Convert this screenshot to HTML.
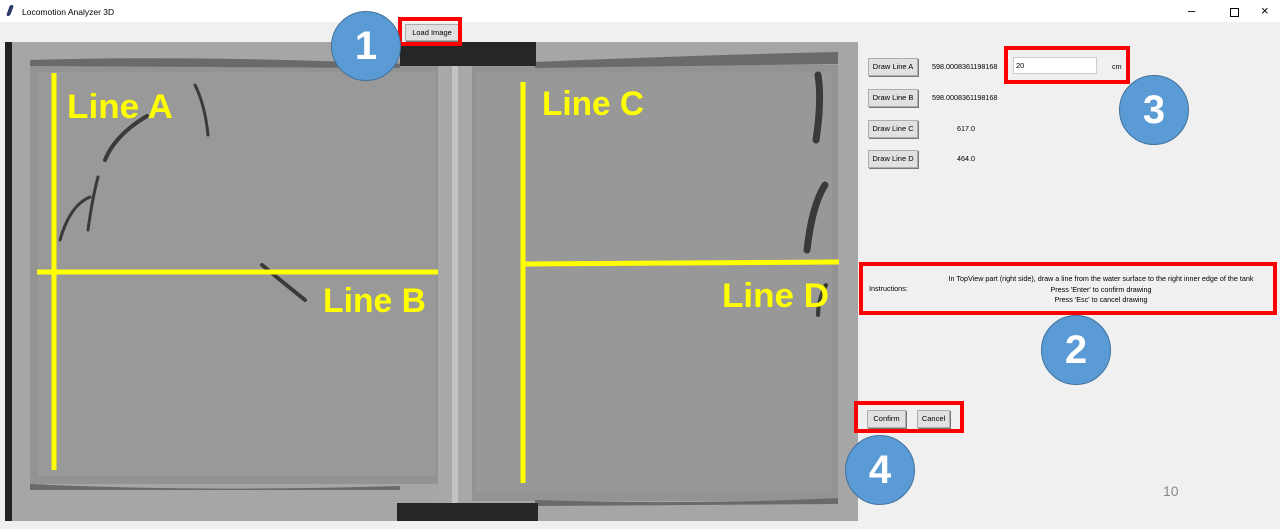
<!DOCTYPE html>
<html><head><meta charset="utf-8"><style>
body{margin:0;width:1280px;height:529px;overflow:hidden;background:#f0f0f0;font-family:"Liberation Sans",sans-serif;position:relative}
.abs{position:absolute}
.btn{position:absolute;background:#e1e1e1;border:1px solid #adadad;box-shadow:1px 1px 0 #777;font-size:7.5px;text-align:center;line-height:15px;color:#000;white-space:nowrap}
.lbl{position:absolute;font-size:7.2px;color:#000;white-space:nowrap}
.red{position:absolute;border:4px solid #f00;box-sizing:border-box}
.circ{position:absolute;width:70px;height:70px;border-radius:50%;background:#5b9bd5;border:1px solid #41719c;box-sizing:border-box;color:#fff;font-weight:bold;font-size:40px;text-align:center;line-height:68px}
</style></head><body>
<div class="abs" style="left:0;top:0;width:1280px;height:22px;background:#fff"></div>
<div class="abs" style="left:8px;top:5px;width:4px;height:11px;background:#2a3a6a;transform:skewX(-20deg);border-radius:2px"></div>
<div class="lbl" style="left:22px;top:7px;font-size:8.5px">Locomotion Analyzer 3D</div>
<div class="lbl" style="left:1188px;top:3px;font-size:13px">&#8211;</div>
<div class="abs" style="left:1230px;top:8px;width:7px;height:7px;border:1px solid #000"></div>
<div class="lbl" style="left:1261px;top:3px;font-size:13px">&#215;</div>

<svg class="abs" style="left:5px;top:42px" width="853" height="479" viewBox="5 42 853 479">
<rect x="5" y="42" width="853" height="479" fill="#a6a6a6"/>
<rect x="5" y="42" width="7" height="479" fill="#222"/>
<rect x="30" y="62" width="410" height="422" fill="#939393"/>
<rect x="38" y="72" width="398" height="404" fill="#999"/>
<path d="M30 60 Q200 55 400 64 L400 68 L30 66Z" fill="#6a6a6a"/>
<path d="M30 484 Q200 492 400 486 L400 490 L30 490Z" fill="#6a6a6a"/>
<rect x="470" y="65" width="368" height="436" fill="#939393"/>
<rect x="476" y="72" width="356" height="420" fill="#989898"/>
<path d="M535 62 Q700 55 838 52 L838 64 L535 68Z" fill="#6a6a6a"/>
<path d="M535 500 Q700 505 838 498 L838 504 L535 506Z" fill="#6a6a6a"/>
<rect x="438" y="64" width="34" height="440" fill="#a8a8a8"/>
<rect x="452" y="64" width="6" height="440" fill="#c4c4c4"/>
<rect x="400" y="42" width="136" height="24" fill="#262626"/>
<rect x="397" y="503" width="141" height="18" fill="#262626"/>
<g stroke="#3a3a3a" stroke-linecap="round" fill="none">
<path d="M195 85 Q205 105 208 135" stroke-width="3"/>
<path d="M147 116 Q115 135 105 160" stroke-width="4"/>
<path d="M98 177 Q92 200 88 230" stroke-width="3"/>
<path d="M90 197 Q70 205 60 240" stroke-width="3"/>
<path d="M262 265 Q280 280 305 300" stroke-width="4"/>
<path d="M818 75 Q822 100 816 140" stroke-width="7"/>
<path d="M825 185 Q812 205 807 250" stroke-width="7"/>
<path d="M826 285 Q818 300 818 315" stroke-width="4"/>
</g>
<g stroke="#ffff00" stroke-width="5">
<line x1="54" y1="73" x2="54" y2="470"/>
<line x1="37" y1="272" x2="438" y2="272"/>
<line x1="523" y1="82" x2="523" y2="483"/>
<line x1="523" y1="264" x2="839" y2="262"/>
</g>
<g fill="#ffff00" font-family="Liberation Sans" font-weight="bold" font-size="34">
<text x="67" y="118" textLength="106" lengthAdjust="spacingAndGlyphs">Line A</text>
<text x="323" y="312" textLength="103" lengthAdjust="spacingAndGlyphs">Line B</text>
<text x="542" y="115" textLength="102" lengthAdjust="spacingAndGlyphs">Line C</text>
<text x="722" y="307" textLength="107" lengthAdjust="spacingAndGlyphs">Line D</text>
</g>
</svg>

<div class="btn" style="left:405px;top:24px;width:52px;height:15px">Load Image</div>
<div class="red" style="left:398px;top:17px;width:64px;height:29px"></div>
<div class="circ" style="left:331px;top:11px">1</div>

<div class="btn" style="left:868px;top:58px;width:48px;height:16px">Draw Line A</div>
<div class="btn" style="left:868px;top:89px;width:48px;height:16px">Draw Line B</div>
<div class="btn" style="left:868px;top:120px;width:48px;height:16px">Draw Line C</div>
<div class="btn" style="left:868px;top:150px;width:48px;height:16px">Draw Line D</div>
<div class="lbl" style="left:932px;top:62px">598.0008361198168</div>
<div class="lbl" style="left:932px;top:93px">598.0008361198168</div>
<div class="lbl" style="left:957px;top:124px">617.0</div>
<div class="lbl" style="left:957px;top:154px">464.0</div>
<div class="abs" style="left:1013px;top:57px;width:84px;height:17px;background:#fff;border:1px solid #ccc;box-sizing:border-box;font-size:7.5px;line-height:15px;padding-left:2px">20</div>
<div class="lbl" style="left:1112px;top:62px">cm</div>
<div class="red" style="left:1004px;top:46px;width:126px;height:38px"></div>
<div class="circ" style="left:1119px;top:75px">3</div>

<div class="red" style="left:859px;top:262px;width:418px;height:53px"></div>
<div class="lbl" style="left:869px;top:284px">Instructions:</div>
<div class="lbl" style="left:926px;top:274px;width:350px;text-align:center;line-height:10.5px">In TopView part (right side), draw a line from the water surface to the right inner edge of the tank<br>Press 'Enter' to confirm drawing<br>Press 'Esc' to cancel drawing</div>
<div class="circ" style="left:1041px;top:315px">2</div>

<div class="btn" style="left:867px;top:410px;width:37px;height:16px">Confirm</div>
<div class="btn" style="left:917px;top:410px;width:31px;height:16px">Cancel</div>
<div class="red" style="left:854px;top:401px;width:110px;height:32px"></div>
<div class="circ" style="left:845px;top:435px">4</div>
<div class="lbl" style="left:1163px;top:483px;font-size:14px;color:#888">10</div>
</body></html>
